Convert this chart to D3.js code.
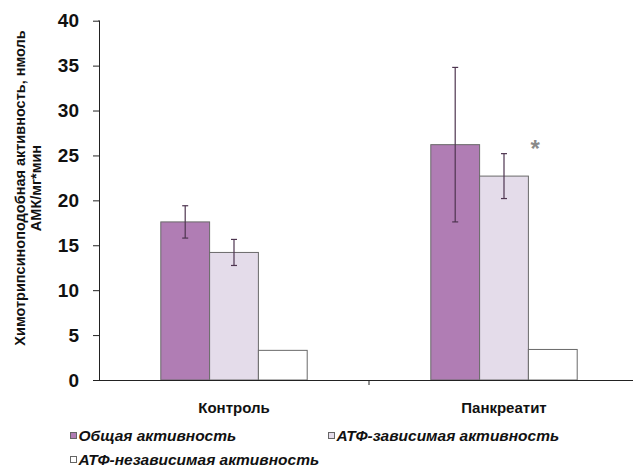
<!DOCTYPE html>
<html><head><meta charset="utf-8">
<script src="https://cdn.jsdelivr.net/npm/d3@7"></script>
<style>body{margin:0;background:#fff}svg{display:block}</style>
</head><body>
<svg id="c" width="633" height="468"></svg>
<script>
const categories = ["Контроль", "Панкреатит"];
const seriesNames = ["Общая активность", "АТФ-зависимая активность", "АТФ-независимая активность"];
const total = [17.6, 26.2];
const totalErr = [1.8, 8.6];
const atpDep = [14.2, 22.7];
const atpDepErr = [1.45, 2.5];
const atpIndep = [3.3, 3.4];
const yTicks = [0, 5, 10, 15, 20, 25, 30, 35, 40];
const seriesColors = ["#b07db4", "#e4dcea", "#ffffff"];

const values = [total, atpDep, atpIndep];
const errors = [totalErr, atpDepErr, null];

const svg = d3.select("#c");
const x0 = d3.scaleBand().domain(categories).range([99, 639]).padding(0);
const bw = x0.bandwidth();
const x1 = d3.scaleBand().domain(seriesNames).range([bw/2 - 73.2, bw/2 + 73.2]).padding(0);
const y = d3.scaleLinear().domain([0, 40]).range([380, 20.7]);

// y axis
const yAxis = svg.append("g").attr("transform", "translate(99,0)")
  .call(d3.axisLeft(y).tickValues(yTicks).tickSize(6).tickPadding(14));
yAxis.select(".domain").attr("stroke", "#222").attr("d", `M-0.5,${y(40)}H0.5V${y(0)}`);
yAxis.selectAll(".tick line").attr("stroke", "#222");
yAxis.selectAll(".tick text").attr("font-family", "Liberation Sans, Arial, sans-serif")
  .attr("font-weight", "bold").attr("font-size", 19).attr("fill", "#111");

// bars
categories.forEach((cat, ci) => {
  seriesNames.forEach((s, si) => {
    const v = values[si][ci];
    svg.append("rect")
      .attr("x", x0(cat) + x1(s))
      .attr("y", y(v))
      .attr("width", x1.bandwidth())
      .attr("height", y(0) - y(v))
      .attr("fill", seriesColors[si])
      .attr("stroke", "#6a6a6a").attr("stroke-width", 1);
  });
});

// error bars
categories.forEach((cat, ci) => {
  seriesNames.forEach((s, si) => {
    if (!errors[si]) return;
    const v = values[si][ci], e = errors[si][ci];
    const cx = x0(cat) + x1(s) + x1.bandwidth()/2;
    const g = svg.append("g").attr("stroke", "#4e3550").attr("stroke-width", 1.2);
    g.append("line").attr("x1", cx).attr("x2", cx).attr("y1", y(v + e)).attr("y2", y(v - e));
    g.append("line").attr("x1", cx - 3).attr("x2", cx + 3).attr("y1", y(v + e)).attr("y2", y(v + e));
    g.append("line").attr("x1", cx - 3).attr("x2", cx + 3).attr("y1", y(v - e)).attr("y2", y(v - e));
  });
});

// x axis
const xAxis = svg.append("g");
xAxis.append("line").attr("x1", 99).attr("x2", 639).attr("y1", 380.5).attr("y2", 380.5).attr("stroke", "#222");
categories.slice(1).forEach(c => {
  xAxis.append("line").attr("x1", x0(c)).attr("x2", x0(c)).attr("y1", 380).attr("y2", 385).attr("stroke", "#222");
});
categories.forEach(c => {
  svg.append("text").attr("x", x0(c) + bw/2).attr("y", 413)
    .attr("text-anchor", "middle")
    .attr("font-family", "Liberation Sans, Arial, sans-serif")
    .attr("font-weight", "bold").attr("font-size", 15).attr("fill", "#111")
    .text(c);
});

// asterisk
svg.append("text").attr("x", x0("Панкреатит") + x1(seriesNames[1]) + x1.bandwidth() + 2)
  .attr("y", 157)
  .attr("font-family", "Liberation Sans, Arial, sans-serif")
  .attr("font-weight", "bold").attr("font-size", 24).attr("fill", "#8a8a8a")
  .text("*");

// y title
const yt = svg.append("text").attr("transform", "translate(0,188) rotate(-90)")
  .attr("text-anchor", "middle")
  .attr("font-family", "Liberation Sans, Arial, sans-serif")
  .attr("font-weight", "bold").attr("font-size", 14.5).attr("fill", "#111");
yt.append("tspan").attr("x", 0).attr("y", 25).text("Химотрипсиноподобная активность, нмоль");
yt.append("tspan").attr("x", 0).attr("y", 41).text("АМК/мг*мин");

// legend
const legendPos = [[70.5, 435.5], [328.5, 435.5], [70.5, 459.5]];
seriesNames.forEach((s, i) => {
  const [lx, ly] = legendPos[i];
  svg.append("rect").attr("x", lx).attr("y", ly - 3).attr("width", 6).attr("height", 6)
    .attr("fill", seriesColors[i]).attr("stroke", "#666").attr("stroke-width", 1);
  svg.append("text").attr("x", lx + 8).attr("y", ly + 5.5)
    .attr("font-family", "Liberation Sans, Arial, sans-serif")
    .attr("font-weight", "bold").attr("font-style", "italic").attr("font-size", 15.5).attr("fill", "#111")
    .text(s);
});
</script>
</body></html>
